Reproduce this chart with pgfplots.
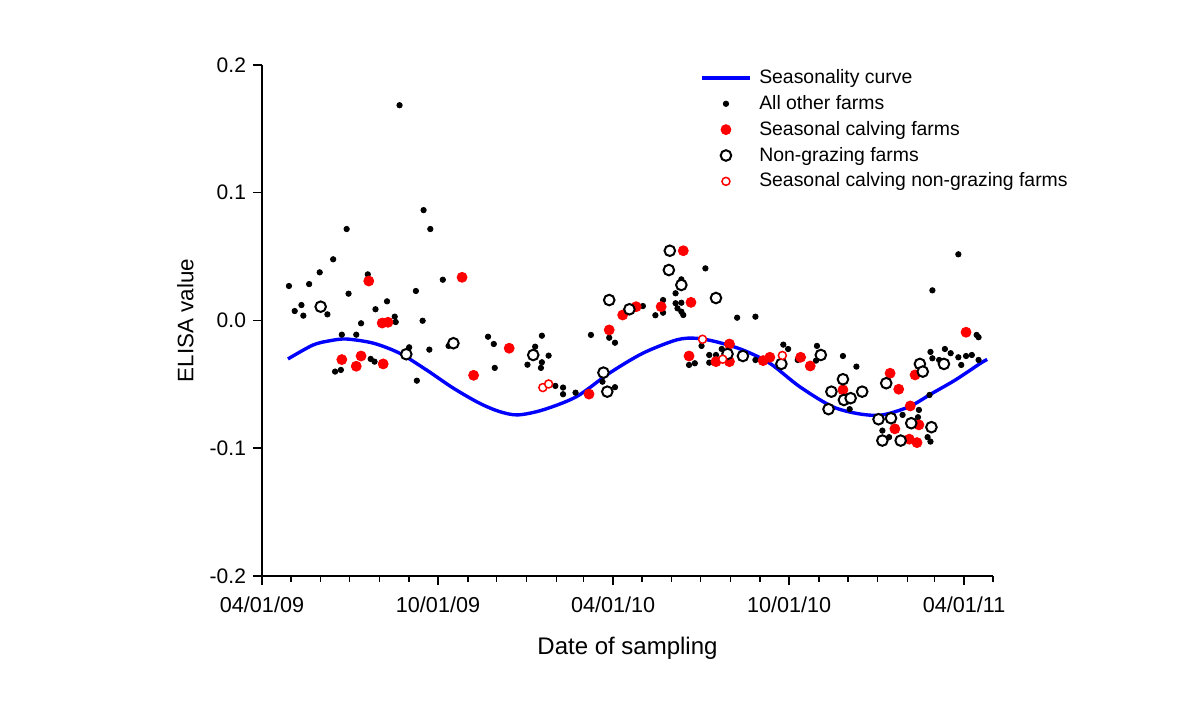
\documentclass[border=0pt]{standalone}
\usepackage{pgfplots}
\pgfplotsset{compat=1.18}
\usepackage{fontspec}
\setmainfont{Liberation Sans}

% x = days since 04/01/2009
\begin{document}
\begin{tikzpicture}
\begin{axis}[
  scale only axis, width=365.5pt, height=255.5pt,
  xmin=0, xmax=760, ymin=-0.2, ymax=0.2,
  axis x line*=bottom, axis y line*=left,
  axis line style={-, line width=0.75pt},
  tick align=outside, tick style={black, line width=0.75pt},
  major tick length=4.5pt, minor tick length=3pt,
  xtick={0,183,365,548,730},
  xticklabels={04/01/09,10/01/09,04/01/10,10/01/10,04/01/11},
  minor xtick={30,61,91,122,153,214,244,275,306,334,395,426,456,487,518,579,609,640,671,699,760},
  ytick={-0.2,-0.1,0,0.1,0.2},
  yticklabel style={font=\fontsize{10.5}{12}\selectfont,
    /pgf/number format/.cd, fixed, fixed zerofill, precision=1, assume math mode=true},
  xticklabel style={font=\fontsize{10.8}{12}\selectfont, yshift=-2.5pt},
  xlabel={Date of sampling}, ylabel={ELISA value},
  xlabel style={font=\fontsize{12}{14}\selectfont, at={(axis description cs:0.5,-0.141)}, anchor=center},
  ylabel style={font=\fontsize{11.2}{13}\selectfont, at={(axis description cs:-0.105,0.5)}, anchor=center, rotate=0},
  legend style={draw=none, fill=none, at={(axis description cs:0.599,1.0)}, anchor=north west,
    font=\fontsize{9.7}{11}\selectfont, row sep=0.4pt, inner sep=0pt,
    nodes={inner xsep=3.8pt}},
  legend cell align=left,
  legend image code/.code={\draw[mark repeat=2,mark phase=2,#1] plot coordinates {(0pt,0pt) (12pt,0pt) (24pt,0pt)};},
  clip=false,
]

\addplot[blue, line width=1.7pt, smooth] coordinates {
(27,-0.0301) (53,-0.0192) (71,-0.0158) (88,-0.0145) (116,-0.0178) (143,-0.0256)
(171,-0.0387) (199,-0.0530) (226,-0.0647) (247,-0.0713) (266,-0.0739) (292,-0.0700)
(327,-0.0596) (361,-0.0413) (396,-0.0256) (431,-0.0152) (451,-0.0139) (472,-0.0166)
(500,-0.0231) (528,-0.0335) (559,-0.0518) (593,-0.0674) (621,-0.0731) (645,-0.0739)
(673,-0.0674) (697,-0.0569) (721,-0.0465) (747,-0.0335) (754,-0.0305)};
\addlegendentry{Seasonality curve}

\addplot[only marks, mark=*, mark size=1.35pt, black] coordinates {
(143,0.1685) (168,0.0864) (88,0.0716) (175,0.0716) (74,0.0479) (60,0.0377)
(110,0.0361) (28,0.0270) (49,0.0285) (188,0.0319) (90,0.0210) (160,0.0231)
(130,0.0150) (41,0.0121) (34,0.0074) (43,0.0038) (68,0.0048) (118,0.0088)
(138,0.0030) (139,-0.0012) (103,-0.0022) (167,-0.0002) (83,-0.0111) (98,-0.0111)
(113,-0.0301) (117,-0.0322) (76,-0.0400) (82,-0.0387) (153,-0.0210) (174,-0.0228)
(161,-0.0471) (235,-0.0127) (241,-0.0184) (242,-0.0371) (194,-0.0199)
(461,0.0408) (430,0.0213) (436,0.0322) (396,0.0113) (417,0.0160) (430,0.0135)
(436,0.0139) (409,0.0041) (417,0.0061) (432,0.0095) (438,0.0043) (436,0.0069)
(494,0.0022) (513,0.0030) (291,-0.0119) (342,-0.0113) (361,-0.0135) (367,-0.0174)
(284,-0.0205) (298,-0.0275) (276,-0.0346) (291,-0.0327) (290,-0.0371) (305,-0.0512)
(313,-0.0525) (313,-0.0577) (326,-0.0565) (354,-0.0479) (367,-0.0522)
(457,-0.0199) (444,-0.0348) (450,-0.0335) (465,-0.0270) (465,-0.0330) (478,-0.0223)
(472,-0.0270) (513,-0.0309) (724,0.0518) (697,0.0236) (745,-0.0131) (743,-0.0113)
(542,-0.0189) (547,-0.0223) (577,-0.0199) (604,-0.0278) (695,-0.0246) (710,-0.0223)
(716,-0.0256) (732,-0.0278) (738,-0.0270) (618,-0.0361) (697,-0.0296) (724,-0.0288)
(745,-0.0309) (694,-0.0583) (611,-0.0694) (683,-0.0700) (666,-0.0739) (645,-0.0862)
(682,-0.0757) (692,-0.0913) (695,-0.0948) (652,-0.0913) (671,-0.0921) (704,-0.0309)
(727,-0.0348) (557,-0.0309) (576,-0.0314)};
\addlegendentry{All other farms}

\addplot[only marks, mark=*, mark size=2.5pt, red] coordinates {
(111,0.0309) (208,0.0338) (125,-0.0020) (131,-0.0014) (83,-0.0306) (103,-0.0278)
(98,-0.0358) (126,-0.0340) (257,-0.0217) (220,-0.0429) (438,0.0546) (375,0.0043)
(389,0.0108) (415,0.0108) (446,0.0142) (361,-0.0074) (340,-0.0576) (444,-0.0278)
(486,-0.0184) (472,-0.0322) (486,-0.0322) (732,-0.0092) (560,-0.0288) (528,-0.0288)
(521,-0.0314) (570,-0.0356) (653,-0.0413) (679,-0.0426) (662,-0.0538) (604,-0.0543)
(674,-0.0669) (658,-0.0848) (683,-0.0817) (681,-0.0956) (673,-0.0929)};
\addlegendentry{Seasonal calving farms}

\addplot[only marks, mark=*, mark size=2.65pt, mark options={draw=black, fill=white, line width=1pt}] coordinates {
(61,0.0108) (150,-0.0264) (199,-0.0178) (424,0.0546) (423,0.0395) (436,0.0278)
(361,0.0160) (382,0.0088) (472,0.0176) (282,-0.0270) (355,-0.0408) (359,-0.0557)
(484,-0.0262) (500,-0.0278) (581,-0.0270) (540,-0.0340) (604,-0.0460) (592,-0.0557)
(624,-0.0557) (605,-0.0622) (612,-0.0608) (589,-0.0694) (649,-0.0491) (684,-0.0340)
(687,-0.0400) (709,-0.0340) (641,-0.0773) (654,-0.0765) (675,-0.0804) (696,-0.0835)
(645,-0.0940) (664,-0.0940)};
\addlegendentry{Non-grazing farms}

\addplot[only marks, mark=*, mark size=2pt, mark options={draw=red, fill=white, line width=0.75pt}] coordinates {
(292,-0.0525) (298,-0.0497) (458,-0.0147) (479,-0.0303) (541,-0.0274)};
\addlegendentry{Seasonal calving non-grazing farms}

\end{axis}
\path (-131pt,-62.5pt) rectangle (469pt,288pt);
\end{tikzpicture}
\end{document}
